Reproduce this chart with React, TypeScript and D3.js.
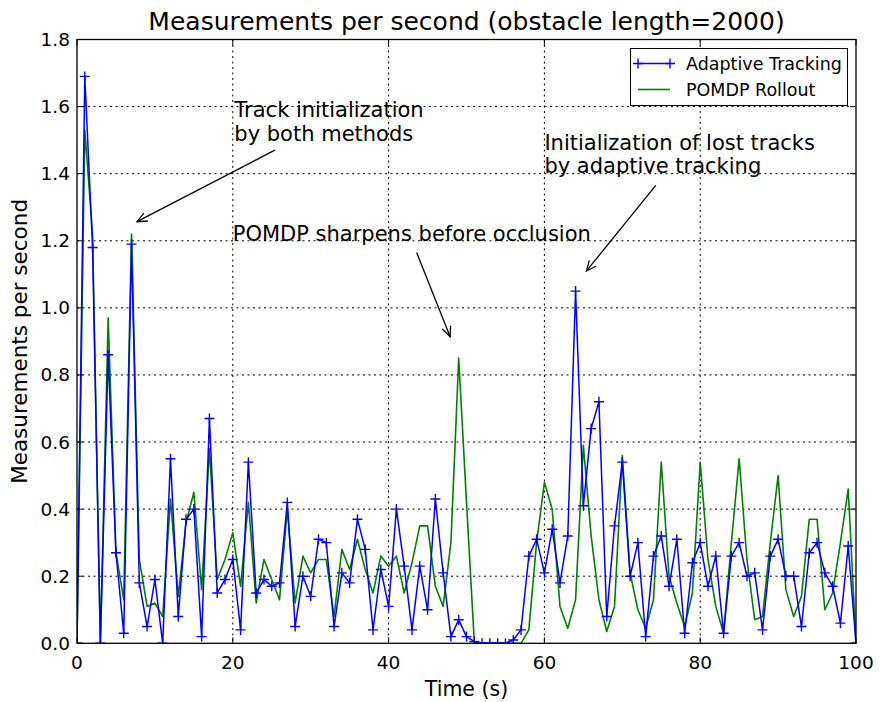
import React from 'react';
import * as d3 from 'd3';

// Measurements per second, one value per second (t = 0..100)
const adaptiveTracking: number[] = [
  0, 1.69, 1.18, 0.0, 0.86, 0.27, 0.03, 1.19, 0.18, 0.05,
  0.19, 0.0, 0.55, 0.08, 0.37, 0.4, 0.02, 0.67, 0.15, 0.19,
  0.25, 0.04, 0.54, 0.15, 0.19, 0.17, 0.18, 0.42, 0.05, 0.2,
  0.14, 0.31, 0.3, 0.05, 0.21, 0.18, 0.37, 0.28, 0.04, 0.22,
  0.11, 0.4, 0.23, 0.04, 0.23, 0.1, 0.43, 0.21, 0.02, 0.07,
  0.02, 0.005, 0, 0, 0, 0, 0.01, 0.04, 0.26, 0.31,
  0.21, 0.34, 0.18, 0.32, 1.05, 0.41, 0.64, 0.72, 0.08, 0.35,
  0.54, 0.2, 0.3, 0.02, 0.26, 0.32, 0.17, 0.31, 0.03, 0.24,
  0.3, 0.17, 0.26, 0.03, 0.26, 0.3, 0.2, 0.21, 0.04, 0.26,
  0.31, 0.2, 0.2, 0.05, 0.27, 0.3, 0.21, 0.17, 0.06, 0.29,
  0,
];

const pomdpRollout: number[] = [
  0, 1.53, 1.22, 0, 0.97, 0.27, 0.13, 1.22, 0.25, 0.11,
  0.12, 0.08, 0.43, 0.14, 0.36, 0.45, 0.16, 0.58, 0.19, 0.25,
  0.33, 0.17, 0.42, 0.12, 0.25, 0.19, 0.13, 0.4, 0.12, 0.26,
  0.21, 0.25, 0.25, 0.08, 0.28, 0.22, 0.31, 0.22, 0.15, 0.26,
  0.23, 0.26, 0.15, 0.24, 0.35, 0.35, 0.17, 0.11, 0.3, 0.85,
  0.42, 0.005, 0, 0, 0, 0, 0, 0, 0.04, 0.3,
  0.48, 0.4, 0.11, 0.045, 0.13, 0.59, 0.32, 0.13, 0.035, 0.11,
  0.56, 0.21, 0.1, 0.045, 0.13, 0.54, 0.2, 0.12, 0.05, 0.15,
  0.54, 0.25, 0.11, 0.03, 0.3, 0.55, 0.25, 0.07, 0.08, 0.3,
  0.5, 0.16, 0.08, 0.14, 0.37, 0.37, 0.1, 0.15, 0.3, 0.46,
  0,
];

const xTicks: number[] = [0, 20, 40, 60, 80, 100];
const yTicks: number[] = [0, 0.2, 0.4, 0.6, 0.8, 1.0, 1.2, 1.4, 1.6, 1.8];

const seriesNames: string[] = ['Adaptive Tracking', 'POMDP Rollout'];

const titleText = 'Measurements per second (obstacle length=2000)';
const xLabel = 'Time (s)';
const yLabel = 'Measurements per second';

// Annotations: text lines with text anchor (data coords) and arrow from/to (data coords)
const annotationLines: string[][] = [
  ['Track initialization', 'by both methods'],
  ['POMDP sharpens before occlusion'],
  ['Initialization of lost tracks', 'by adaptive tracking'],
];
const annotationTextAt: [number, number][] = [
  [20.2, 1.568],
  [20.0, 1.2],
  [60.0, 1.47],
];
const annotationArrowFrom: [number, number][] = [
  [25.4, 1.47],
  [43.6, 1.165],
  [74.3, 1.365],
];
const annotationArrowTo: [number, number][] = [
  [7.7, 1.257],
  [47.9, 0.914],
  [65.4, 1.11],
];

const W = 880;
const H = 702;
const M = { left: 77, right: 856, top: 39.5, bottom: 643.3 };
const FONT = 'DejaVu Sans, sans-serif';

export default function App() {
  const times = adaptiveTracking.map((_, i) => i);
  const x = d3.scaleLinear().domain([0, 100]).range([M.left, M.right]);
  const y = d3.scaleLinear().domain([0, 1.8]).range([M.bottom, M.top]);

  const lineGen = d3
    .line<number>()
    .x((_, i) => x(times[i]))
    .y((d) => y(d));

  const tickLen = 6;
  const markerSize = 5;

  const arrowHead = (from: [number, number], to: [number, number]) => {
    const fx = x(from[0]);
    const fy = y(from[1]);
    const tx = x(to[0]);
    const ty = y(to[1]);
    const ang = Math.atan2(fy - ty, fx - tx);
    const hl = 11;
    const spread = 0.42;
    const a1 = [tx + hl * Math.cos(ang + spread), ty + hl * Math.sin(ang + spread)];
    const a2 = [tx + hl * Math.cos(ang - spread), ty + hl * Math.sin(ang - spread)];
    return { fx, fy, tx, ty, a1, a2 };
  };

  return (
    <svg
      width={W}
      height={H}
      style={{ position: 'absolute', left: 0, top: 0, background: '#fff' }}
      fontFamily={FONT}
    >
      <rect x={0} y={0} width={W} height={H} fill="#fff" />
      <defs>
        <clipPath id="plotclip">
          <rect x={M.left} y={M.top} width={M.right - M.left} height={M.bottom - M.top} />
        </clipPath>
      </defs>

      {/* grid */}
      <g stroke="#000" strokeWidth={1} strokeDasharray="2,3.5" fill="none">
        {xTicks.slice(1, -1).map((t) => (
          <line key={'gx' + t} x1={x(t)} x2={x(t)} y1={M.top} y2={M.bottom} />
        ))}
        {yTicks.slice(1, -1).map((t) => (
          <line key={'gy' + t} x1={M.left} x2={M.right} y1={y(t)} y2={y(t)} />
        ))}
      </g>

      {/* series */}
      <g clipPath="url(#plotclip)">
        <path
          d={lineGen(pomdpRollout) || ''}
          fill="none"
          stroke="#008000"
          strokeWidth={1.6}
          strokeLinejoin="round"
        />
        <path
          d={lineGen(adaptiveTracking) || ''}
          fill="none"
          stroke="#0000ff"
          strokeWidth={1.5}
          strokeLinejoin="round"
        />
        {adaptiveTracking.map((v, i) => (
          <path
            key={'m' + i}
            d={`M${x(times[i]) - markerSize},${y(v)}H${x(times[i]) + markerSize}M${x(times[i])},${y(v) - markerSize}V${y(v) + markerSize}`}
            stroke="#0000ff"
            strokeWidth={1.4}
          />
        ))}
      </g>

      {/* ticks, inward on all sides */}
      <g stroke="#000" strokeWidth={1}>
        {xTicks.map((t) => (
          <g key={'tx' + t}>
            <line x1={x(t)} x2={x(t)} y1={M.bottom} y2={M.bottom - tickLen} />
            <line x1={x(t)} x2={x(t)} y1={M.top} y2={M.top + tickLen} />
          </g>
        ))}
        {yTicks.map((t) => (
          <g key={'ty' + t}>
            <line x1={M.left} x2={M.left + tickLen} y1={y(t)} y2={y(t)} />
            <line x1={M.right} x2={M.right - tickLen} y1={y(t)} y2={y(t)} />
          </g>
        ))}
      </g>

      {/* frame */}
      <rect
        x={M.left}
        y={M.top}
        width={M.right - M.left}
        height={M.bottom - M.top}
        fill="none"
        stroke="#000"
        strokeWidth={1.3}
      />

      {/* tick labels */}
      <g fontSize={18.5} fill="#000">
        {xTicks.map((t) => (
          <text key={'lx' + t} x={x(t)} y={M.bottom + 26} textAnchor="middle">
            {d3.format('d')(t)}
          </text>
        ))}
        {yTicks.map((t) => (
          <text key={'ly' + t} x={M.left - 7} y={y(t) + 6.5} textAnchor="end">
            {d3.format('.1f')(t)}
          </text>
        ))}
      </g>

      {/* axis labels and title */}
      <text x={(M.left + M.right) / 2} y={696} textAnchor="middle" fontSize={20.5}>
        {xLabel}
      </text>
      <text
        transform={`translate(27,${(M.top + M.bottom) / 2}) rotate(-90)`}
        textAnchor="middle"
        fontSize={21.5}
      >
        {yLabel}
      </text>
      <text x={(M.left + M.right) / 2} y={30} textAnchor="middle" fontSize={25}>
        {titleText}
      </text>

      {/* annotations */}
      {annotationLines.map((lines, k) => {
        const ah = arrowHead(annotationArrowFrom[k], annotationArrowTo[k]);
        return (
          <g key={'ann' + k}>
            <text x={x(annotationTextAt[k][0])} y={y(annotationTextAt[k][1])} fontSize={21} fill="#000">
              {lines.map((ln, j) => (
                <tspan key={j} x={x(annotationTextAt[k][0])} dy={j === 0 ? 0 : 23.3}>
                  {ln}
                </tspan>
              ))}
            </text>
            <g stroke="#000" strokeWidth={1.3} fill="none">
              <line x1={ah.fx} y1={ah.fy} x2={ah.tx} y2={ah.ty} />
              <polyline points={`${ah.a1[0]},${ah.a1[1]} ${ah.tx},${ah.ty} ${ah.a2[0]},${ah.a2[1]}`} />
            </g>
          </g>
        );
      })}

      {/* legend */}
      <g>
        <rect x={630.5} y={48.5} width={217} height={57} fill="#fff" stroke="#000" strokeWidth={1} />
        <line x1={638} x2={670} y1={63.5} y2={63.5} stroke="#0000ff" strokeWidth={1.5} />
        <path d="M633,63.5H643M638,58.5V68.5M665,63.5H675M670,58.5V68.5" stroke="#0000ff" strokeWidth={1.4} />
        <text x={686} y={69.5} fontSize={17.5}>
          {seriesNames[0]}
        </text>
        <line x1={638} x2={670} y1={89.5} y2={89.5} stroke="#008000" strokeWidth={1.6} />
        <text x={686} y={95.5} fontSize={17.5}>
          {seriesNames[1]}
        </text>
      </g>
    </svg>
  );
}
